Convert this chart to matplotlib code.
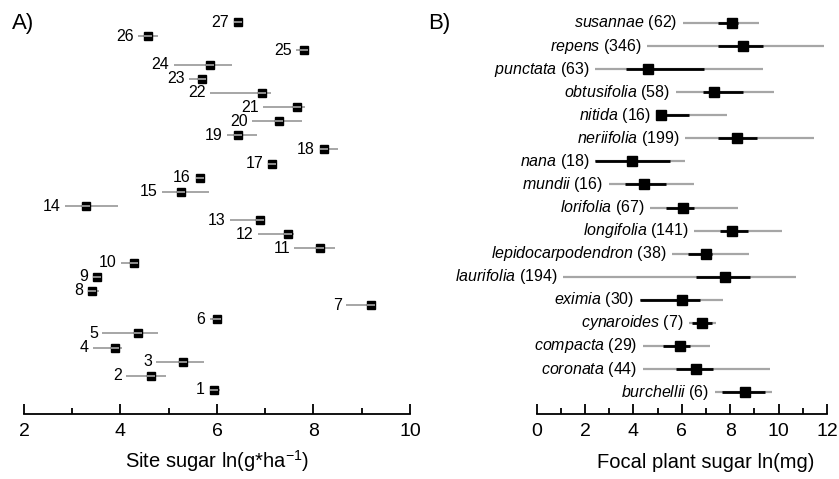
import matplotlib
matplotlib.use("Agg")
import matplotlib.pyplot as plt

plt.rcParams['font.family'] = ['Liberation Sans', 'DejaVu Sans']
plt.rcParams['mathtext.fontset'] = 'custom'
plt.rcParams['mathtext.rm'] = 'Liberation Sans'
plt.rcParams['mathtext.it'] = 'Liberation Sans:italic'

# panel A: site sugar, sites 1..27
sites = list(range(1, 28))
site_mean = [5.94, 4.63, 5.30, 3.89, 4.37, 6.01, 9.19, 3.41, 3.51, 4.27,
             8.14, 7.47, 6.89, 3.29, 5.26, 5.64, 7.15, 8.22, 6.43, 7.28,
             7.65, 6.93, 5.68, 5.85, 7.80, 4.58, 6.43]
site_lo = [5.94, 4.12, 4.74, 3.43, 3.62, 5.85, 8.67, 3.41, 3.51, 4.01,
           7.60, 6.84, 6.27, 2.84, 4.85, 5.64, 7.15, 8.22, 6.20, 6.73,
           6.95, 5.85, 5.43, 5.10, 7.63, 4.37, 6.43]
site_hi = [6.07, 4.95, 5.73, 4.03, 4.77, 6.01, 9.19, 3.56, 3.55, 4.27,
           8.44, 7.60, 6.95, 3.95, 5.83, 5.64, 7.15, 8.51, 6.82, 7.76,
           7.83, 7.11, 5.78, 6.32, 7.80, 4.77, 6.43]

# panel B: focal plant sugar per species (bottom to top)
species = ["burchellii", "coronata", "compacta", "cynaroides", "eximia",
           "laurifolia", "lepidocarpodendron", "longifolia", "lorifolia",
           "mundii", "nana", "neriifolia", "nitida", "obtusifolia",
           "punctata", "repens", "susannae"]
n_plants = [6, 44, 29, 7, 30, 194, 38, 141, 67, 16, 18, 199, 16, 58, 63, 346, 62]
sp_median = [8.59, 6.57, 5.92, 6.84, 6.01, 7.78, 6.98, 8.06, 6.03, 4.44,
             3.94, 8.30, 5.12, 7.34, 4.60, 8.52, 8.09]
sp_min = [7.37, 4.40, 4.40, 6.30, 4.26, 1.08, 5.60, 6.51, 4.67, 2.97,
          2.42, 6.12, 4.95, 5.75, 2.42, 4.58, 6.06]
sp_max = [9.72, 9.65, 7.16, 7.40, 7.71, 10.71, 8.78, 10.16, 8.31, 6.51,
          6.12, 11.45, 7.85, 9.79, 9.37, 11.89, 9.17]
sp_q1 = [7.65, 5.75, 5.23, 6.40, 4.26, 6.58, 6.26, 7.58, 5.36, 3.64,
         2.42, 7.48, 4.95, 6.86, 3.71, 7.48, 7.48]
sp_q3 = [9.44, 7.30, 6.33, 7.23, 6.75, 8.82, 7.23, 8.75, 6.51, 5.34,
         5.50, 9.10, 6.30, 8.52, 6.93, 9.37, 8.34]

grey = '#a6a6a6'

fig = plt.figure(figsize=(8.39, 4.79), dpi=100)
axA = fig.add_axes([24 / 839, 65 / 479, 386 / 839, 406 / 479])
axB = fig.add_axes([536.7 / 839, 65 / 479, 290.3 / 839, 406 / 479])

# ---- A ----
for s, m, lo, hi in zip(sites, site_mean, site_lo, site_hi):
    axA.plot([lo, hi], [s, s], color=grey, lw=1.4, zorder=1, solid_capstyle='butt')
    axA.plot(m, s, 's', color='black', ms=6.2, zorder=2)
    axA.plot(m, s, '_', color=grey, ms=6.2, mew=1.2, zorder=3)
    if lo < m - 0.05:
        axA.annotate(str(s), (lo, s), xytext=(-3, 0), textcoords='offset points',
                     ha='right', va='center', fontsize=11.5)
    else:
        axA.annotate(str(s), (m, s), xytext=(-6.5, 0), textcoords='offset points',
                     ha='right', va='center', fontsize=11.5)

axA.set_xlim(2, 10)
axA.set_ylim(-0.7, 28.0)
axA.set_xticks([2, 4, 6, 8, 10])
axA.set_xticks([3, 5, 7, 9], minor=True)
axA.set_yticks([])
for sp in ['top', 'right', 'left']:
    axA.spines[sp].set_visible(False)
axA.spines['bottom'].set_linewidth(1.3)
axA.tick_params(axis='x', which='major', direction='in', length=7, width=1.3,
                labelsize=14, pad=6.7)
axA.tick_params(axis='x', which='minor', direction='in', length=4, width=1.3)
axA.set_xlabel(r'Site sugar ln(g*ha$^{-1}$)', fontsize=14.5)
axA.xaxis.set_label_coords(0.499, -0.083)
fig.text(12 / 839, 1 - 24 / 479, 'A)', fontsize=16, va='center', ha='left')

# ---- B ----
for j, (name, n) in enumerate(zip(species, n_plants)):
    axB.plot([sp_min[j], sp_max[j]], [j, j], color=grey, lw=1.6, zorder=1,
             solid_capstyle='butt')
    axB.plot([sp_q1[j], sp_q3[j]], [j, j], color='black', lw=2.0, zorder=2,
             solid_capstyle='butt')
    axB.plot(sp_median[j], j, 's', color='black', ms=7.2, zorder=3)
    axB.annotate(r'$\mathit{' + name + '}$ (' + str(n) + ')', (sp_min[j], j),
                 xytext=(-4, 0), textcoords='offset points',
                 ha='right', va='center', fontsize=11.5, annotation_clip=False)

axB.set_xlim(0, 12)
axB.set_ylim(-0.95, 16.65)
axB.set_xticks(range(0, 13, 2))
axB.set_xticks(range(1, 12, 2), minor=True)
axB.set_yticks([])
for sp in ['top', 'right', 'left']:
    axB.spines[sp].set_visible(False)
axB.spines['bottom'].set_linewidth(1.3)
axB.tick_params(axis='x', which='major', direction='in', length=7, width=1.3,
                labelsize=14, pad=6.7)
axB.tick_params(axis='x', which='minor', direction='in', length=4, width=1.3)
axB.set_xlabel('Focal plant sugar ln(mg)', fontsize=14.5)
axB.xaxis.set_label_coords(0.581, -0.097)
fig.text(428 / 839, 1 - 24 / 479, 'B)', fontsize=16, va='center', ha='left')

fig.savefig('out.png', dpi=100)
